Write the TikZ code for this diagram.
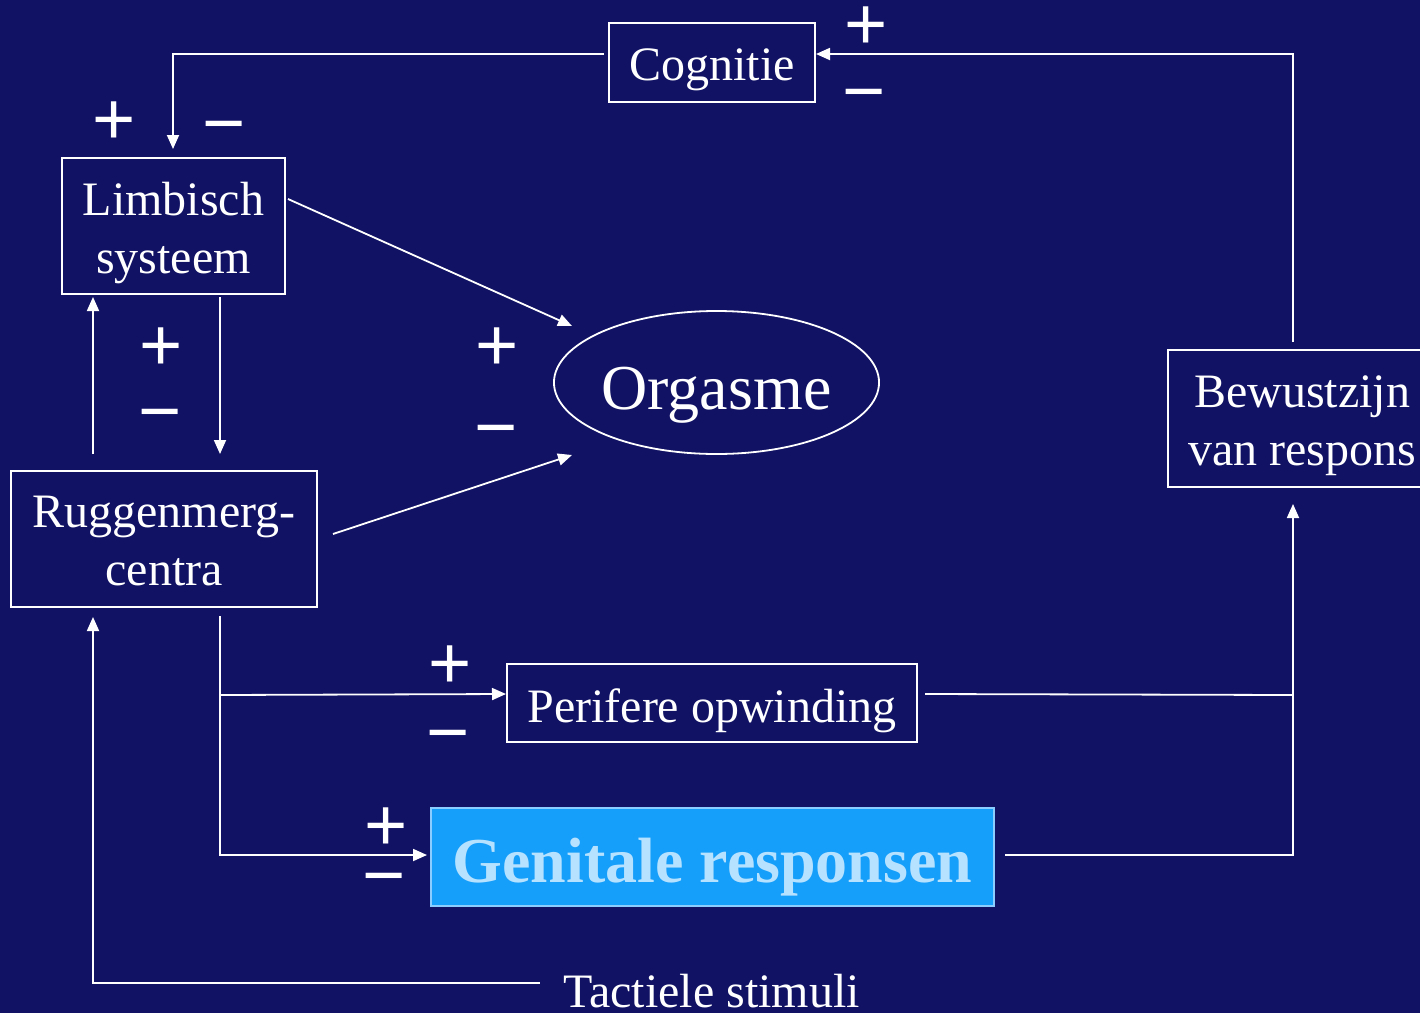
\documentclass[tikz,border=0pt]{standalone}
\usepackage{fontspec}
\setmainfont{Liberation Serif}
\newfontfamily\signfont{Liberation Sans}
\usetikzlibrary{shapes.geometric,arrows.meta,calc}
\definecolor{bgblue}{RGB}{17,18,100}
\definecolor{genfill}{RGB}{21,158,250}
\definecolor{gentext}{RGB}{182,226,255}
\definecolor{genborder}{RGB}{140,205,255}
\begin{document}
\begin{tikzpicture}[x=0.5pt,y=-0.5pt,
  box/.style={draw=white,line width=1pt,text=white,inner sep=0pt,align=center,font=\fontsize{24}{29}\selectfont},
  conn/.style={draw=white,line width=0.9pt},
  arr/.style={conn,-{Triangle[length=7pt,width=6pt]}},
  sign/.style={text=white,inner sep=0pt,font=\signfont\fontsize{37}{37}\selectfont},
  plussign/.style={sign,yshift=-1.5pt},
  minussign/.style={sign,yshift=-7pt}]
\useasboundingbox (0,0) rectangle (1420,1013);
\fill[bgblue] (0,0) rectangle (1420,1013);
\clip (0,0) rectangle (1420,1013);

% nodes
\node[box,minimum width=103pt,minimum height=39.5pt,text height=18pt,text depth=0pt] (cog) at (712,62) {Cognitie};
\node[box,minimum width=111.5pt,minimum height=68pt,text height=47pt,text depth=0pt] (limb) at (173.5,226) {Limbisch\\systeem};
\node[box,minimum width=153pt,minimum height=68pt,text height=46pt,text depth=0pt] (rug) at (164,539) {Ruggenmerg-\\centra};
\node[draw=white,line width=0.9pt,ellipse,minimum width=160.5pt,minimum height=71.5pt,inner sep=0pt,text=white,text height=26.5pt,text depth=0pt,font=\fontsize{32}{38}\selectfont] (org) at (716.5,382.5) {Orgasme};
\node[box,minimum width=134pt,minimum height=68.5pt,text height=46.5pt,text depth=0pt] (bew) at (1302,418.5) {Bewustzijn\\van respons};
\node[box,minimum width=205pt,minimum height=39pt,text height=19pt,text depth=0pt] (per) at (712,703) {Perifere opwinding};
\node[draw=genborder,fill=genfill,line width=1pt,minimum width=281.5pt,minimum height=49pt,inner sep=0pt,text=gentext,text height=25pt,text depth=0pt,font=\bfseries\fontsize{32}{38}\selectfont] (gen) at (712.5,857) {Genitale responsen};
\node[text=white,anchor=base,inner sep=0pt,font=\fontsize{24}{29}\selectfont] (tac) at (711.5,1007) {Tactiele stimuli};

% connectors
\draw[arr] ($(cog.west)+(-4,-8)$) -| ($(limb.north)+(-0.5,-8)$);
\draw[arr] ($(bew.north)+(-9,-7)$) |- ($(cog.east)+(0,-8)$);
\draw[arr] ($(limb.east)+(2,-27)$) -- ($(org.center)+(-144.5,-56.5)$);
\draw[arr] ($(rug.east)+(15,-5)$) -- ($(org.center)+(-144.5,72.5)$);
\draw[arr] ($(limb.south)+(46.5,2)$) -- ($(rug.north)+(56,-16)$);
\draw[arr] ($(rug.north)+(-71,-16)$) -- ($(limb.south)+(-80.5,2)$);
\draw[arr] ($(rug.south)+(56,8)$) |- ($(gen.west)+(-3,-2)$);
\draw[arr] ($(rug.south)+(56,87)$) -- ($(per.west)+(0,-9)$);
\draw[arr] ($(gen.east)+(10,-2)$) -| ($(bew.south)+(-9,16)$);
\draw[conn] ($(per.east)+(7,-9)$) -- ($(bew.south)+(-9,207)$);
\draw[arr] ($(tac.base west)+(-23,-24)$) -| ($(rug.south)+(-71,9)$);

% signs
\node[plussign] (s1p) at (866,25) {+};
\node[minussign] (s1m) at (864,89) {−};
\node[plussign] (s2p) at (114,120) {+};
\node[minussign] (s2m) at (224,121) {−};
\node[plussign] (s3p) at (161,346) {+};
\node[minussign] (s3m) at (160,409) {−};
\node[plussign] (s4p) at (497,346) {+};
\node[minussign] (s4m) at (496,425) {−};
\node[plussign] (s5p) at (450,664) {+};
\node[minussign] (s5m) at (448,730) {−};
\node[plussign] (s6p) at (386,826) {+};
\node[minussign] (s6m) at (384,873) {−};
\end{tikzpicture}
\end{document}
